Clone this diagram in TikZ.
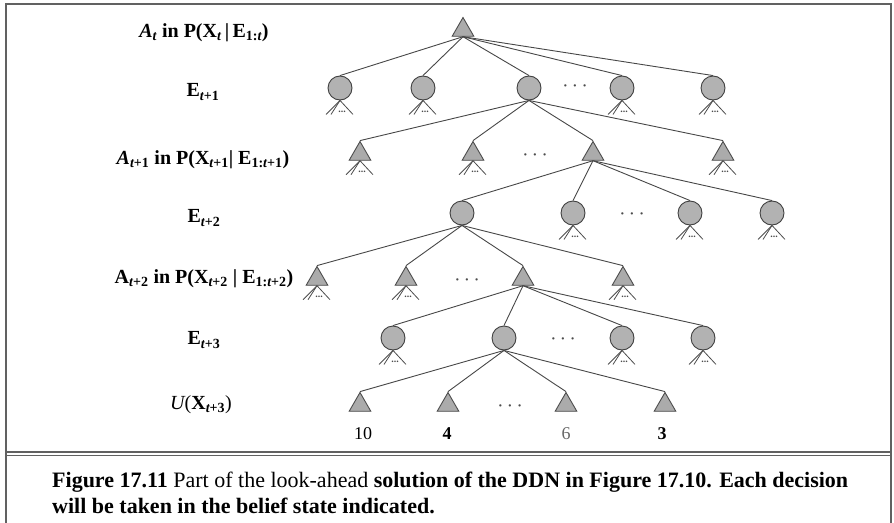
\documentclass[tikz,border=0pt]{standalone}
\usepackage{fontspec}
\setmainfont{Liberation Serif}
\usetikzlibrary{shapes.geometric}
\newcommand\sbs[1]{\textsubscript{#1}}
\begin{document}
\begin{tikzpicture}[x=1pt,y=-1pt,
  tri/.style={regular polygon, regular polygon sides=3, minimum size=25, inner sep=0pt,
    draw=black!70, fill=black!33, line width=0.9pt},
  circ/.style={circle, minimum size=24, inner sep=0pt, draw=black!75, fill=black!30, line width=0.9pt},
  conn/.style={draw=black!72, line width=0.9pt},
  stub/.style={draw=black!70, line width=0.8pt},
  lab/.style={font=\fontsize{20}{23}\selectfont\bfseries, inner sep=0pt},
  val/.style={font=\fontsize{18}{21}\selectfont, inner sep=0pt},
  dotsn/.style={font=\fontsize{14}{16}\selectfont\bfseries, inner sep=0pt, text=black!70},
  capt/.style={font=\fontsize{22}{26}\selectfont, inner sep=0pt, anchor=base west},
  frame/.style={draw=black!62, line width=1.6pt}
]
\useasboundingbox (0,0) rectangle (894,522);
% frame
\draw[frame] (6,523) -- (6,4) -- (891,4) -- (891,523);
\draw[frame, line width=1.1pt] (6,452) -- (891,452);
\draw[frame, line width=1.1pt] (6,455.5) -- (891,455.5);

\newcommand\fan[1]{%
  \draw[stub] (#1.south) -- ++(-14,14);
  \draw[stub] (#1.south) -- ++(-9,14);
  \draw[stub] (#1.south) -- ++(13,14);
  \node[font=\fontsize{10}{11}\selectfont\bfseries, inner sep=0pt, text=black!70] at ([xshift=2pt,yshift=-11pt]#1.south) {...};}

% labels
\node[lab] (l1) at (204,33) {{\itshape A}\sbs{\itshape t} in P(X\sbs{\itshape t}\,|\,E\sbs{1:\itshape t})};
\node[lab] (l2) at (203,92) {E\sbs{\itshape t\upshape +1}};
\node[lab] (l3) at (203,160) {{\itshape A}\sbs{\itshape t\upshape +1} in P(X\sbs{\itshape t\upshape +1}| E\sbs{1:\itshape t\upshape +1})};
\node[lab] (l4) at (204,218) {E\sbs{\itshape t\upshape +2}};
\node[lab] (l5) at (204,279) {A\sbs{\itshape t\upshape +2} in P(X\sbs{\itshape t\upshape +2} | E\sbs{1:\itshape t\upshape +2})};
\node[lab] (l6) at (204,340) {E\sbs{\itshape t\upshape +3}};
\node[lab] (l7) at (201,405) {{\mdseries\itshape U}{\mdseries(}X\sbs{\itshape t\upshape +3}{\mdseries)}};

% row 0
\node[tri] (r) at (463,30) {};
% row 1
\node[circ] (a1) at (340,88) {};
\node[circ] (a2) at (423,88) {};
\node[circ] (a3) at (529,88) {};
\node[dotsn] (ad) at (575,88) {\textperiodcentered\hspace{5pt}\textperiodcentered\hspace{5pt}\textperiodcentered};
\node[circ] (a4) at (622,88) {};
\node[circ] (a5) at (713,88) {};
% row 2
\node[tri] (b1) at (360,154) {};
\node[tri] (b2) at (473,154) {};
\node[dotsn] (bd) at (535,157) {\textperiodcentered\hspace{5pt}\textperiodcentered\hspace{5pt}\textperiodcentered};
\node[tri] (b3) at (593,154) {};
\node[tri] (b4) at (723,154) {};
% row 3
\node[circ] (c1) at (462,213) {};
\node[circ] (c2) at (573,213) {};
\node[dotsn] (cd) at (632,216) {\textperiodcentered\hspace{5pt}\textperiodcentered\hspace{5pt}\textperiodcentered};
\node[circ] (c3) at (690,213) {};
\node[circ] (c4) at (772,213) {};
% row 4
\node[tri] (d1) at (317,279) {};
\node[tri] (d2) at (406,279) {};
\node[dotsn] (dd) at (467,282) {\textperiodcentered\hspace{5pt}\textperiodcentered\hspace{5pt}\textperiodcentered};
\node[tri] (d3) at (523,279) {};
\node[tri] (d4) at (623,279) {};
% row 5
\node[circ] (e1) at (393,338) {};
\node[circ] (e2) at (504,338) {};
\node[dotsn] (ed) at (563,341) {\textperiodcentered\hspace{5pt}\textperiodcentered\hspace{5pt}\textperiodcentered};
\node[circ] (e3) at (622,338) {};
\node[circ] (e4) at (703,338) {};
% row 6
\node[tri] (f1) at (360,405) {};
\node[tri] (f2) at (448,405) {};
\node[dotsn] (fd) at (510,408) {\textperiodcentered\hspace{5pt}\textperiodcentered\hspace{5pt}\textperiodcentered};
\node[tri] (f3) at (566,405) {};
\node[tri] (f4) at (665,405) {};
% values
\node[val] (v1) at (363,434) {10};
\node[val] (v2) at (447,434) {\bfseries 4};
\node[val, text=black!60] (v3) at (566,434) {6};
\node[val] (v4) at (662,434) {\bfseries 3};

% connectors
\foreach \n in {a1,a2,a3,a4,a5} \draw[conn] (r.south) -- (\n.north);
\foreach \n in {b1,b2,b3,b4} \draw[conn] (a3.south) -- (\n.north);
\foreach \n in {c1,c2,c3,c4} \draw[conn] (b3.south) -- (\n.north);
\foreach \n in {d1,d2,d3,d4} \draw[conn] (c1.south) -- (\n.north);
\foreach \n in {e1,e2,e3,e4} \draw[conn] (d3.south) -- (\n.north);
\foreach \n in {f1,f2,f3,f4} \draw[conn] (e2.south) -- (\n.north);

% stubs
\fan{a1}\fan{a2}\fan{a4}\fan{a5}
\fan{b1}\fan{b2}\fan{b4}
\fan{c2}\fan{c3}\fan{c4}
\fan{d1}\fan{d2}\fan{d4}
\fan{e1}\fan{e3}\fan{e4}

% caption
\node[capt] (cap1) at (52,487) {\bfseries Figure 17.11\mdseries{} Part of the look-ahead \bfseries solution of the DDN in Figure 17.10. Each decision};
\node[capt] (cap2) at (52,513) {\bfseries will be taken in the belief state indicated.};
\end{tikzpicture}
\end{document}
